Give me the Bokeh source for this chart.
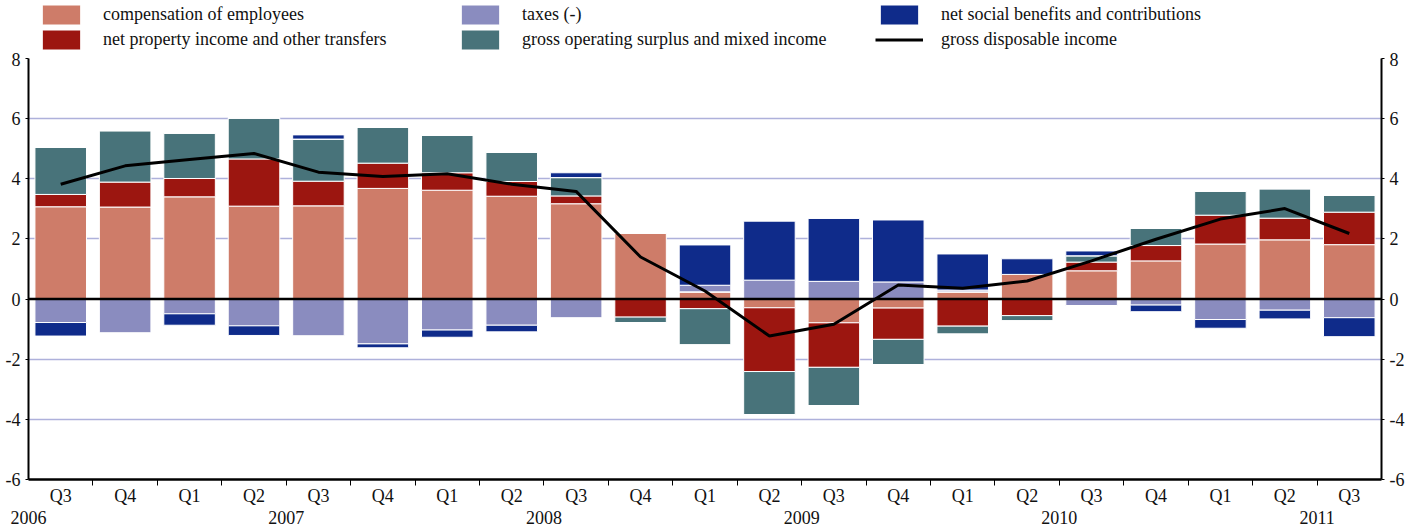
from bokeh.plotting import figure
from bokeh.layouts import column
from bokeh.models import (LinearAxis, FixedTicker, Range1d, Span, Legend, LegendItem,
                          ColumnDataSource, Grid)
from bokeh.embed import file_html
from bokeh.resources import INLINE

# ---------------- data ----------------
quarters = ["Q3", "Q4", "Q1", "Q2", "Q3", "Q4", "Q1", "Q2", "Q3", "Q4", "Q1",
            "Q2", "Q3", "Q4", "Q1", "Q2", "Q3", "Q4", "Q1", "Q2", "Q3"]
years = ["2006", "2007", "2008", "2009", "2010", "2011"]

compensation = [3.07, 3.06, 3.40, 3.09, 3.10, 3.68, 3.62, 3.42, 3.17, 2.20, 0.24,
                -0.29, -0.79, -0.30, 0.24, 0.82, 0.94, 1.27, 1.83, 1.97, 1.81]
property_income = [0.41, 0.83, 0.61, 1.57, 0.82, 0.84, 0.58, 0.49, 0.26, -0.60, -0.32,
                   -2.12, -1.48, -1.04, -0.90, -0.55, 0.29, 0.51, 0.96, 0.72, 1.08]
operating_surplus = [1.56, 1.71, 1.51, 1.36, 1.40, 1.19, 1.24, 0.97, 0.61, -0.18, -1.21,
                     -1.43, -1.27, -0.84, -0.27, -0.18, 0.21, 0.57, 0.80, 0.98, 0.56]
taxes = [-0.78, -1.13, -0.49, -0.89, -1.23, -1.49, -1.03, -0.87, -0.63, 0.0, 0.22,
         0.63, 0.59, 0.57, 0.06, 0.0, -0.22, -0.20, -0.68, -0.37, -0.62]
social = [-0.45, 0.0, -0.38, -0.32, 0.14, -0.13, -0.24, -0.22, 0.16, 0.0, 1.34,
          1.96, 2.09, 2.06, 1.20, 0.52, 0.16, -0.22, -0.29, -0.29, -0.63]
disposable = [3.82, 4.43, 4.64, 4.84, 4.22, 4.08, 4.17, 3.82, 3.58, 1.40, 0.27,
              -1.23, -0.84, 0.47, 0.36, 0.60, 1.27, 1.99, 2.66, 3.01, 2.18]

y_ticks = [-6, -4, -2, 0, 2, 4, 6, 8]

# ---------------- styling ----------------
FONT = "Liberation Serif"
FS = "18px"
TXT = "#111111"
series = [
    ("compensation of employees", compensation, "#CE7C69"),
    ("net property income and other transfers", property_income, "#9C1610"),
    ("gross operating surplus and mixed income", operating_surplus, "#48737A"),
    ("taxes (-)", taxes, "#8A8CBF"),
    ("net social benefits and contributions", social, "#0F2B8A"),
]
line_name = "gross disposable income"

n = len(quarters)
xs = list(range(n))
data = {"x": xs}
pos_keys, neg_keys = [], []
for i, (name, vals, col) in enumerate(series):
    data[f"p{i}"] = [max(v, 0.0) for v in vals]
    data[f"n{i}"] = [min(v, 0.0) for v in vals]
    pos_keys.append(f"p{i}")
    neg_keys.append(f"n{i}")
data["gdi"] = disposable
src = ColumnDataSource(data)
colors = [s[2] for s in series]

W = 1422
LEG_H = 52

# ---------------- main chart ----------------
p = figure(width=W, height=526 - LEG_H, x_range=Range1d(-0.5, n - 0.5), y_range=Range1d(-6, 8),
           x_axis_type=None, y_axis_type=None, toolbar_location=None, output_backend="svg",
           min_border_left=28, min_border_right=41, min_border_top=58 - LEG_H,
           min_border_bottom=0)
p.outline_line_color = None
p.background_fill_color = "white"

grid = Grid(dimension=1, ticker=FixedTicker(ticks=[t for t in y_ticks if t != 0]),
            grid_line_color="#AEB1DB", grid_line_width=1.5)
p.add_layout(grid)

p.vbar_stack(pos_keys, x="x", width=0.8, source=src, fill_color=colors,
             line_color="white", line_width=1)
p.vbar_stack(neg_keys, x="x", width=0.8, source=src, fill_color=colors,
             line_color="white", line_width=1)

p.add_layout(Span(location=0, dimension="width", line_color="black", line_width=2.5))
p.line("x", "gdi", source=src, line_color="black", line_width=3)

# y axes (plain hyphen for negative labels, as in the reference)
for side in ("left", "right"):
    ax = LinearAxis(ticker=FixedTicker(ticks=y_ticks, minor_ticks=[]),
                    major_label_overrides={t: str(t) for t in y_ticks})
    ax.axis_line_color = "black"
    ax.axis_line_width = 2
    ax.major_tick_out = 3
    ax.major_tick_in = 0
    ax.major_tick_line_color = "black"
    ax.major_label_standoff = 5
    ax.major_label_text_font = FONT
    ax.major_label_text_font_size = FS
    ax.major_label_text_color = TXT
    p.add_layout(ax, side)

# quarter axis
qax = LinearAxis(ticker=FixedTicker(ticks=xs, minor_ticks=[i + 0.5 for i in range(n - 1)]),
                 major_label_overrides={i: q for i, q in enumerate(quarters)})
qax.axis_line_color = "black"
qax.axis_line_width = 2.5
qax.major_tick_line_color = None
qax.major_tick_out = 0
qax.major_tick_in = 0
qax.minor_tick_line_color = "black"
qax.minor_tick_out = 6
qax.minor_tick_in = 0
qax.major_label_standoff = 0
qax.major_label_text_font = FONT
qax.major_label_text_font_size = FS
qax.major_label_text_color = TXT
p.add_layout(qax, "below")

# year axis: each label centred on its (full) year
first_q1 = -(int(quarters[0][1]) - 1)
year_pos = [first_q1 + 4 * i + 1.5 for i in range(len(years))]
yax = LinearAxis(ticker=FixedTicker(ticks=year_pos, minor_ticks=[]),
                 major_label_overrides={yp: yr for yp, yr in zip(year_pos, years)})
yax.axis_line_color = None
yax.major_tick_line_color = None
yax.major_tick_out = 0
yax.major_tick_in = 0
yax.minor_tick_line_color = None
yax.major_label_standoff = 2
yax.major_label_text_font = FONT
yax.major_label_text_font_size = FS
yax.major_label_text_color = TXT
p.add_layout(yax, "below")

# ---------------- legend strip (same glyph styles, one off-screen sample) ----------------
lg = figure(width=W, height=LEG_H, x_range=Range1d(0, 1), y_range=Range1d(0, 1),
            x_axis_type=None, y_axis_type=None, toolbar_location=None, output_backend="svg",
            min_border_left=0, min_border_right=0, min_border_top=0, min_border_bottom=0)
lg.outline_line_color = None
leg_r = {}
for i, (name, vals, col) in enumerate(series):
    leg_r[name] = lg.vbar(x=[-10], top=[0], width=0.8, fill_color=col,
                          line_color="white", line_width=1)
leg_r[line_name] = lg.line(x=[-10, -9], y=[0, 0], line_color="black", line_width=3)

# 2 rows x 3 columns, filled column by column
names_in_order = [series[0][0], series[1][0], series[3][0], series[2][0],
                  series[4][0], line_name]
items = [LegendItem(label=nm, renderers=[leg_r[nm]]) for nm in names_in_order]
legend = Legend(items=items, orientation="vertical", nrows=2, ncols=3, location=(9, 0),
                glyph_width=48, glyph_height=25, label_height=25, label_standoff=18,
                label_width=353, spacing=0, padding=0, margin=0,
                label_text_font=FONT, label_text_font_size=FS, label_text_color=TXT,
                border_line_color=None, background_fill_alpha=0)
lg.add_layout(legend, "center")

layout = column(lg, p, spacing=0)
open("out.html", "w").write(file_html(layout, INLINE))
